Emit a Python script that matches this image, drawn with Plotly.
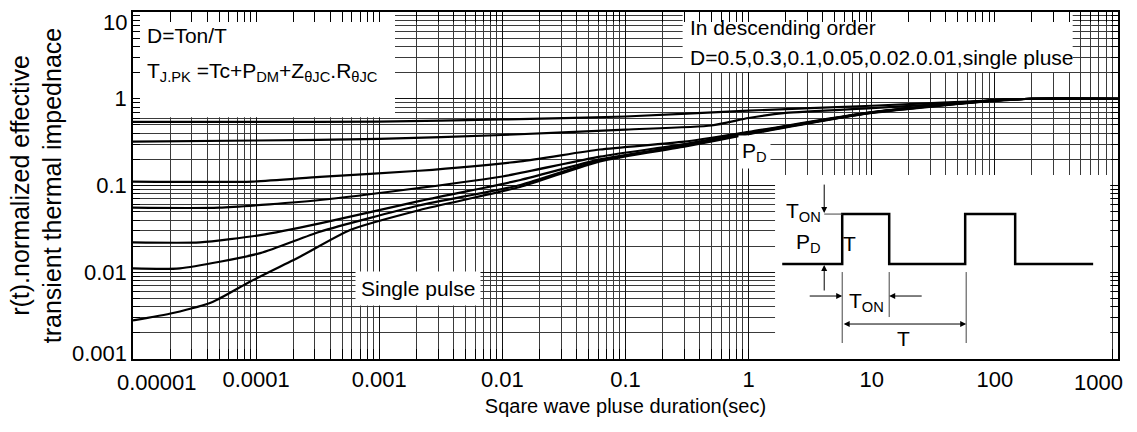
import math
import plotly.graph_objects as go

# ---------------- data ----------------
t_d05 = [1e-5, 1e-4, 1e-3, 1e-2, 1e-1, 1, 10, 100, 200, 1000]
r_d05 = [0.54, 0.54, 0.545, 0.577, 0.624, 0.73, 0.83, 0.96, 1.0, 1.0]

t_d03 = [1e-5, 1e-4, 1e-3, 1e-2, 1e-1, 0.5, 1, 2, 10, 100, 200, 1000]
r_d03 = [0.32, 0.33, 0.345, 0.382, 0.441, 0.492, 0.60, 0.686, 0.78, 0.94, 1.0, 1.0]

t_d01 = [1e-5, 9.4e-5, 3.3e-4, 2.1e-3, 1.4e-2, 6.2e-2, 0.3, 1, 10, 100, 200, 1000]
r_d01 = [0.111, 0.111, 0.126, 0.148, 0.19, 0.26, 0.32, 0.415, 0.70, 0.965, 1.0, 1.0]

t_d005 = [1e-5, 5e-5, 3.3e-4, 2.1e-3, 1e-2, 6.2e-2, 0.3, 1, 10, 100, 200, 1000]
r_d005 = [0.0555, 0.0555, 0.068, 0.0935, 0.127, 0.215, 0.30, 0.405, 0.698, 0.962, 1.0, 1.0]

t_d002 = [1e-5, 3.5e-5, 1.08e-4, 3.3e-4, 2.1e-3, 1.4e-2, 6.2e-2, 0.3, 1, 10, 100, 200, 1000]
r_d002 = [0.0221, 0.0221, 0.0268, 0.0366, 0.066, 0.1157, 0.20, 0.29, 0.40, 0.695, 0.96, 1.0, 1.0]

t_d001 = [1e-5, 2.4e-5, 1.08e-4, 3.3e-4, 2.1e-3, 1.4e-2, 6.2e-2, 0.3, 1, 10, 100, 200, 1000]
r_d001 = [0.0111, 0.0111, 0.0166, 0.0293, 0.0588, 0.1014, 0.195, 0.285, 0.395, 0.69, 0.955, 1.0, 1.0]

t_single = [1e-5, 2.11e-5, 4.47e-5, 8.9e-5, 2.27e-4, 5.8e-4, 2.14e-3, 1.39e-2, 6.2e-2, 0.3, 1, 10, 100, 200, 1000]
r_single = [0.00278, 0.00339, 0.00458, 0.00778, 0.0151, 0.0307, 0.0522, 0.0962, 0.19, 0.28, 0.39, 0.685, 0.95, 1.0, 1.0]

x_tickvals = [1e-5, 1e-4, 1e-3, 1e-2, 1e-1, 1, 10, 100, 1000]
x_ticktext = ["0.00001", "0.0001", "0.001", "0.01", "0.1", "1", "10", "100", "1000"]
y_tickvals = [0.001, 0.01, 0.1, 1, 10]
y_ticktext = ["0.001", "0.01", "0.1", "1", "10"]

# inset schematic (square-wave), in inset units
wave_x = [7, 67, 67, 114, 114, 190, 190, 240, 240, 318]
wave_y = [95, 95, 145, 145, 95, 95, 145, 145, 95, 95]

X_RANGE = [-5, 3]
Y_RANGE = [-3, 1]

# white label boxes as fractions of the plot area (x0, x1, y0, y1)
boxes = [(0.0, 0.266, 0.697, 1.0), (0.558, 0.954, 0.827, 1.0), (0.652, 0.992, 0.0, 0.530)]


def fx(f):
    return 10 ** (X_RANGE[0] + f * (X_RANGE[1] - X_RANGE[0]))


def fy(f):
    return 10 ** (Y_RANGE[0] + f * (Y_RANGE[1] - Y_RANGE[0]))


# ---------------- figure ----------------
FONT = "Liberation Sans, Arial, Helvetica, sans-serif"
TICK_FONT = dict(size=22, color="black", family=FONT)
fig = go.Figure()

# white boxes (drawn over gridlines, under curves and axis ticks)
for x0, x1, y0, y1 in boxes:
    fig.add_trace(go.Scatter(x=[fx(x0), fx(x1), fx(x1), fx(x0), fx(x0)],
                             y=[fy(y0), fy(y0), fy(y1), fy(y1), fy(y0)],
                             mode="lines", fill="toself", fillcolor="white",
                             line=dict(width=0, color="white"),
                             showlegend=False, hoverinfo="skip"))

for t, r in [(t_d05, r_d05), (t_d03, r_d03), (t_d01, r_d01), (t_d005, r_d005),
             (t_d002, r_d002), (t_d001, r_d001), (t_single, r_single)]:
    fig.add_trace(go.Scatter(x=t, y=r, mode="lines",
                             line=dict(color="black", width=2.2, shape="spline", smoothing=0.6),
                             showlegend=False, hoverinfo="skip"))

fig.add_trace(go.Scatter(x=wave_x, y=wave_y, mode="lines", xaxis="x2", yaxis="y2",
                         line=dict(color="black", width=2.5), showlegend=False, hoverinfo="skip"))

minor_x = [m * 10.0 ** e for e in range(-5, 3) for m in range(2, 10)]
minor_y = [m * 10.0 ** e for e in range(-3, 1) for m in range(2, 10)]

axis_common = dict(type="log", showgrid=True, gridcolor="#111", gridwidth=1, automargin=False,
                   ticks="inside", tickcolor="black", showline=True, linecolor="black",
                   linewidth=1.5, mirror="ticks", zeroline=False, tickfont=TICK_FONT)

# end labels are shifted inward (as in the reference) and drawn separately below
x_axis_text = [""] + x_ticktext[1:-1] + [""]
y_axis_text = [""] + y_ticktext[1:-1] + [""]

fig.update_layout(
    width=1137, height=432,
    margin=dict(l=133, r=19, t=12, b=73, autoexpand=False),
    paper_bgcolor="white", plot_bgcolor="white",
    font=dict(family=FONT, color="black"),
    xaxis=dict(axis_common, range=X_RANGE, tickmode="array", tickvals=x_tickvals,
               ticktext=x_axis_text, ticklen=10,
               minor=dict(tickmode="array", tickvals=minor_x, showgrid=True, gridcolor="#3a3a3a",
                          gridwidth=1, ticks="inside", ticklen=10, tickcolor="black"),
               title=dict(text="Sqare wave pluse duration(sec)" + "\u00a0" * 7,
                          font=dict(size=20, color="black"), standoff=8)),
    yaxis=dict(axis_common, range=Y_RANGE, tickmode="array", tickvals=y_tickvals,
               ticktext=y_axis_text, ticklen=7,
               minor=dict(tickmode="array", tickvals=minor_y, showgrid=True, gridcolor="#3a3a3a",
                          gridwidth=1, ticks="inside", ticklen=7, tickcolor="black"),
               title=dict(text="r(t).normalized effective<br>transient thermal impednace",
                          font=dict(size=25, color="black"), standoff=15)),
    xaxis2=dict(domain=[0.652, 0.990], range=[0, 333], visible=False, anchor="y2"),
    yaxis2=dict(domain=[0.0, 0.530], range=[0, 184], visible=False, anchor="x2"),
)

# end tick labels, nudged inward like the reference
fig.add_annotation(xref="x", yref="paper", x=math.log10(x_tickvals[0]), y=0, text=x_ticktext[0],
                   xanchor="left", yanchor="middle", xshift=-18, yshift=-23,
                   showarrow=False, font=TICK_FONT)
fig.add_annotation(xref="x", yref="paper", x=math.log10(x_tickvals[-1]), y=0, text=x_ticktext[-1],
                   xanchor="right", yanchor="middle", xshift=7, yshift=-23,
                   showarrow=False, font=TICK_FONT)
fig.add_annotation(xref="paper", yref="y", x=0, y=math.log10(y_tickvals[0]), text=y_ticktext[0],
                   xanchor="right", yanchor="middle", xshift=-4, yshift=6,
                   showarrow=False, font=TICK_FONT)
fig.add_annotation(xref="paper", yref="y", x=0, y=math.log10(y_tickvals[-1]), text=y_ticktext[-1],
                   xanchor="right", yanchor="middle", xshift=-4, yshift=-10,
                   showarrow=False, font=TICK_FONT)

# text annotations in the main plot
fs = 21
fig.add_annotation(xref="x domain", yref="y domain", x=0.012, y=0.931, xanchor="left",
                   yanchor="middle", text="D=Ton/T", showarrow=False, font=dict(size=fs))
fig.add_annotation(xref="x domain", yref="y domain", x=0.012, y=0.827, xanchor="left",
                   yanchor="middle",
                   text="T<sub>J.PK</sub> =Tc+P<sub>DM</sub>+Z<sub>θJC</sub>.R<sub>θJC</sub>",
                   showarrow=False, font=dict(size=fs))
fig.add_annotation(xref="x domain", yref="y domain", x=0.5635, y=0.954, xanchor="left",
                   yanchor="middle", text="In descending order", showarrow=False,
                   font=dict(size=fs))
fig.add_annotation(xref="x domain", yref="y domain", x=0.5635, y=0.870, xanchor="left",
                   yanchor="middle", text="D=0.5,0.3,0.1,0.05,0.02.0.01,single pluse",
                   showarrow=False, font=dict(size=fs))
fig.add_annotation(xref="x domain", yref="y domain", x=0.289, y=0.202, xanchor="center",
                   yanchor="middle", text="Single pulse", showarrow=False, font=dict(size=fs),
                   bgcolor="white", borderpad=5)
fig.add_annotation(xref="x domain", yref="y domain", x=0.631, y=0.597, xanchor="center",
                   yanchor="middle", text="P<sub>D</sub>", showarrow=False, font=dict(size=fs),
                   bgcolor="white", borderpad=3)

# inset schematic labels
for txt, x, y in [("T<sub>ON</sub>", 28, 147), ("P<sub>D</sub>", 33, 116), ("T", 74, 116),
                  ("T<sub>ON</sub>", 91, 57), ("T", 128, 21)]:
    fig.add_annotation(xref="x2", yref="y2", x=x, y=y, text=txt, showarrow=False,
                       font=dict(size=fs), xanchor="center", yanchor="middle")

# inset arrows: (head x, head y, tail x, tail y, both ends)
for hx, hy, tx, ty, both in [(49, 146, 49, 176, False), (49, 94, 49, 67, False),
                             (67, 63, 33, 63, False), (114, 63, 148, 63, False),
                             (191, 35, 67, 35, True)]:
    fig.add_annotation(xref="x2", yref="y2", axref="x2", ayref="y2", x=hx, y=hy, ax=tx, ay=ty,
                       text="", showarrow=True, arrowhead=2, arrowsize=1.2, arrowwidth=1,
                       arrowcolor="black", arrowside="end+start" if both else "end")

# inset extension lines
for x0, y0, x1, y1 in [(49, 145, 67, 145), (67, 87, 67, 16), (114, 87, 114, 42), (191, 87, 191, 16)]:
    fig.add_shape(type="line", xref="x2", yref="y2", x0=x0, y0=y0, x1=x1, y1=y1,
                  line=dict(color="#444", width=1))

fig.write_html("out.html")
